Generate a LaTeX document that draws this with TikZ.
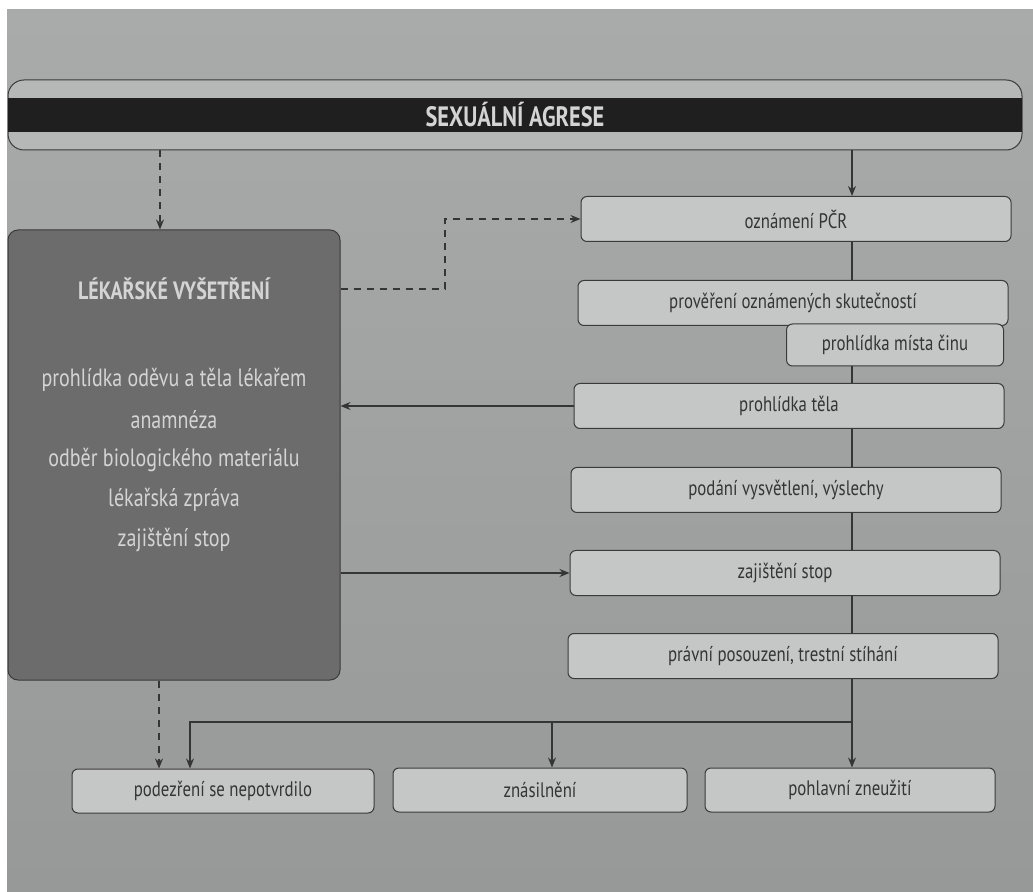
\documentclass[tikz,border=0pt]{standalone}
\usepackage{fontspec}
\setmainfont{PT Sans}[FakeStretch=0.8]
\usetikzlibrary{arrows.meta}
\definecolor{paper}{HTML}{A9AAAA}
\definecolor{paperdark}{HTML}{979898}
\definecolor{boxfill}{HTML}{C5C6C6}
\definecolor{darkfill}{HTML}{6C6C6C}
\definecolor{edge}{HTML}{3A3A3A}
\definecolor{ink}{HTML}{353535}
\definecolor{pale}{HTML}{D4D4D4}
\begin{document}
\begin{tikzpicture}[x=0.5pt,y=-0.5pt,font=\fontsize{10.5}{12}\selectfont,
  box/.style={draw=edge,line width=0.5pt,fill=boxfill,rounded corners=3pt,text=ink,minimum width=215pt,minimum height=22.5pt,inner sep=0pt},
  conn/.style={draw=ink,line width=0.7pt},
  tip/.style={conn,-{Stealth[length=5pt,width=4pt]}},
  dtip/.style={tip,dashed,dash pattern=on 3.5pt off 3pt}]
\path[use as bounding box,fill=white] (0,0) rectangle (1033,892);
\shade[top color=paper,bottom color=paperdark] (7,10) rectangle (1033,892);
% banner
\node[draw=edge,line width=0.5pt,fill=paper!85!white,rounded corners=8pt,minimum width=507pt,minimum height=35pt] (banner) at (515,115) {};
\node[fill=black!88,text=pale,font=\bfseries\fontsize{14}{16}\selectfont,minimum width=507pt,minimum height=17pt,inner sep=0pt] (band) at (515,115) {SEXUÁLNÍ AGRESE};
% lekarske vysetreni
\node[draw=edge,line width=0.5pt,fill=darkfill,rounded corners=5pt,minimum width=166pt,minimum height=225pt] (exam) at (174,455) {};
\node[text=pale,font=\bfseries\fontsize{12.5}{14}\selectfont] (examtitle) at (174,289) {LÉKAŘSKÉ VYŠETŘENÍ};
\foreach \y/\t [count=\i] in {380/prohlídka oděvu a těla lékařem,420/anamnéza,460/odběr biologického materiálu,500/lékařská zpráva,540/zajištění stop}
  \node[text=pale,font=\fontsize{12.5}{14}\selectfont] (item\i) at (174,\y) {\t};
% policejni postup
\node[box] (report) at (796,219) {oznámení PČR};
\node[box] (check) at (793,303) {prověření oznámených skutečností};
\node[box,minimum width=108.5pt,minimum height=21pt] (scene) at (895,345) {prohlídka místa činu};
\node[box] (body) at (789,406) {prohlídka těla};
\node[box] (statement) at (786,490) {podání vysvětlení, výslechy};
\node[box] (traces) at (785,573) {zajištění stop};
\node[box] (legal) at (783,656) {právní posouzení, trestní stíhání};
% vysledky
\node[box,minimum width=151pt,minimum height=22pt] (nope) at (223,791) {podezření se nepotvrdilo};
\node[box,minimum width=147pt,minimum height=22pt] (rape) at (540,790) {znásilnění};
\node[box,minimum width=145pt,minimum height=22pt] (abuse) at (850,790) {pohlavní zneužití};
\coordinate (spine) at (852,0);
\coordinate (split) at (0,722);
\coordinate (bend) at (445,0);
\draw[dtip] ([xshift=-7pt]exam.north |- banner.south) -- ([xshift=-7pt]exam.north);
\draw[tip] (banner.south -| spine) -- (report.north -| spine);
\draw[dtip] (exam.east |- examtitle) -| (bend |- report.west) -- (report.west);
\draw[conn] (report.south -| spine) -- (check.north -| spine);
\draw[conn] (scene.south -| spine) -- (body.north -| spine);
\draw[conn] (body.south -| spine) -- (statement.north -| spine);
\draw[conn] (statement.south -| spine) -- (traces.north -| spine);
\draw[conn] (traces.south -| spine) -- (legal.north -| spine);
\draw[tip] (body.west) -- (body.west -| exam.east);
\draw[tip] (exam.east |- traces.west) -- (traces.west);
\draw[tip] (legal.south -| spine) -- (abuse.north -| spine);
\draw[tip] (split -| spine) -| ([xshift=-16.5pt]nope.north);
\draw[tip] (split -| 552,0) -- (rape.north -| 552,0);
\draw[dtip] ([xshift=-7.5pt]exam.south) -- ([xshift=-7.5pt]exam.south |- nope.north);
\end{tikzpicture}
\end{document}
